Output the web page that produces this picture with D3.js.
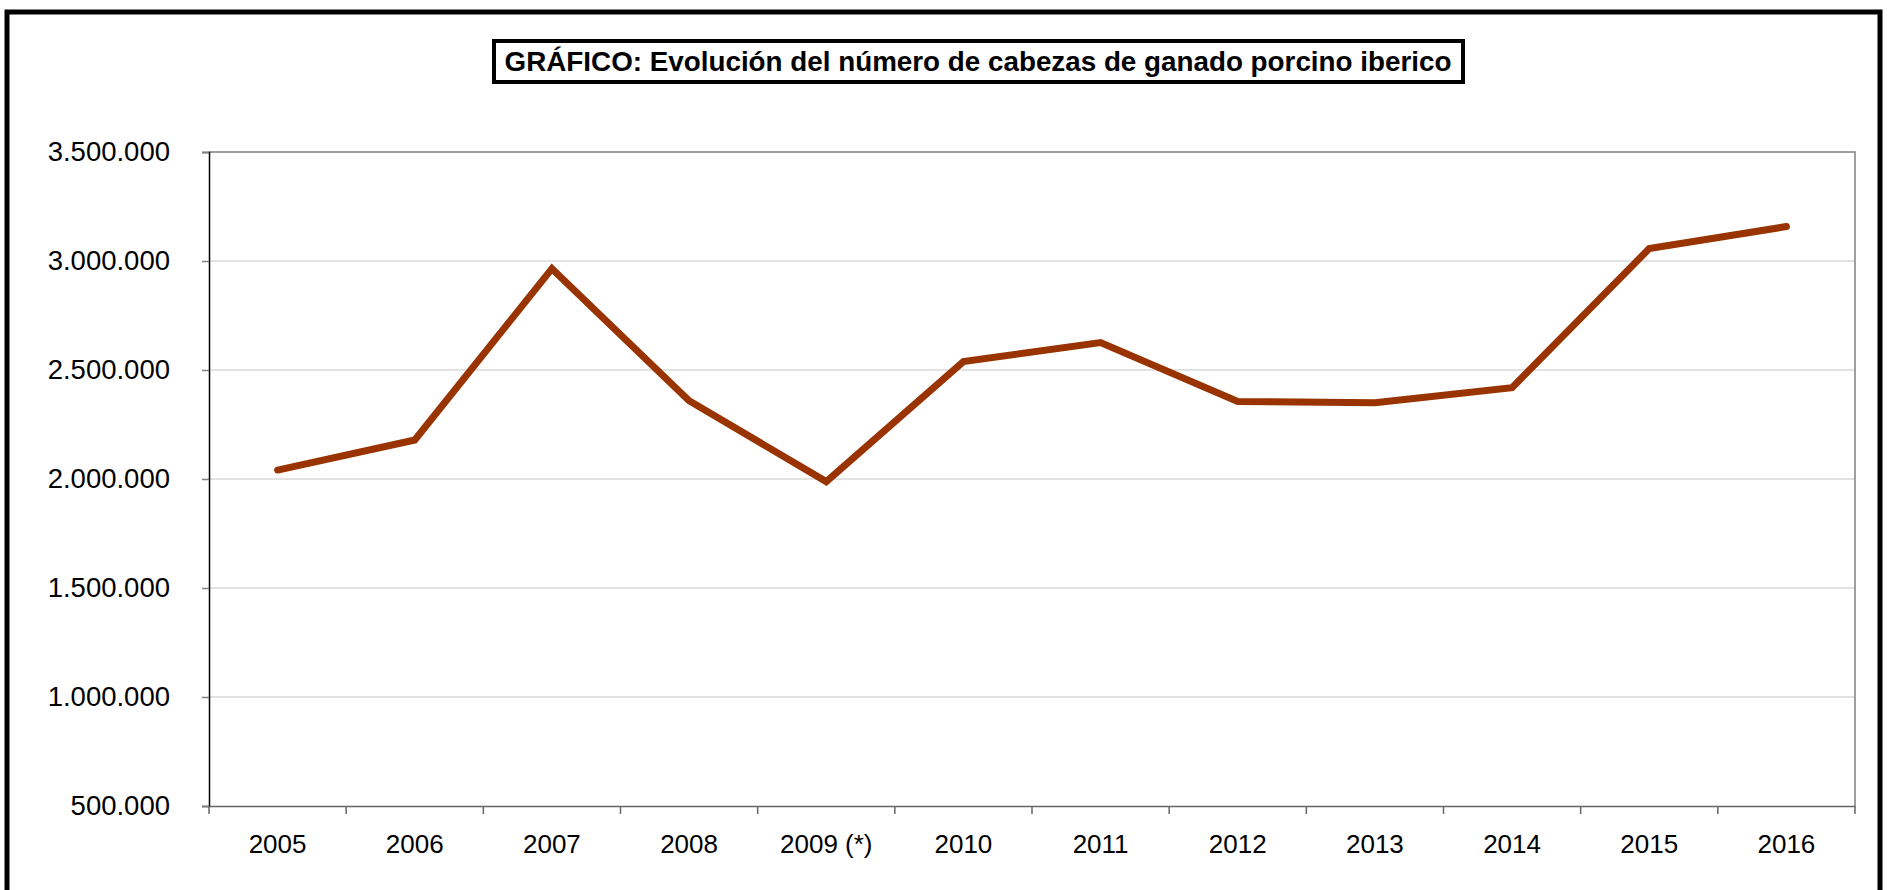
<!DOCTYPE html>
<html lang="es">
  <head>
    <meta charset="utf-8" />
    <title>Ganado porcino ibérico</title>
    <script src="https://d3js.org/d3.v7.min.js"></script>
    <style type="text/css">
      body {
        margin: 0;
        background: #fff;
      }
      svg text {
        font-family: "Liberation Sans", Arial, sans-serif;
        fill: #000;
      }
    </style>
  </head>
  <body>
    <script type="text/javascript">
      // Data
      var years = ["2005", "2006", "2007", "2008", "2009 (*)", "2010",
        "2011", "2012", "2013", "2014", "2015", "2016"];
      var heads = [2041000, 2179000, 2965000, 2359000, 1988000, 2539000,
        2626000, 2356000, 2350000, 2419000, 3057000, 3158000];
      var yTicks = [500000, 1000000, 1500000, 2000000, 2500000, 3000000, 3500000];
      var title = "GRÁFICO: Evolución del número de cabezas de ganado porcino iberico";

      var w = 1894, h = 890;
      var margin = { top: 152, right: 39, bottom: 84, left: 209 };
      var pw = w - margin.left - margin.right,
        ph = h - margin.top - margin.bottom;

      var es = d3.formatLocale({ decimal: ",", thousands: ".", grouping: [3], currency: ["", " €"] });
      var fmt = es.format(",d");

      var svg = d3.select("body").append("svg")
        .attr("width", w)
        .attr("height", h);

      // outer frame
      svg.append("rect")
        .attr("x", 7).attr("y", 12)
        .attr("width", 1873).attr("height", 900)
        .attr("fill", "none")
        .attr("stroke", "#000")
        .attr("stroke-width", 5);

      // title box
      svg.append("rect")
        .attr("x", 494).attr("y", 41)
        .attr("width", 969).attr("height", 41)
        .attr("fill", "#fff")
        .attr("stroke", "#000")
        .attr("stroke-width", 4);
      svg.append("text")
        .attr("x", 978).attr("y", 71)
        .attr("text-anchor", "middle")
        .style("font-size", "27.8px")
        .style("font-weight", "bold")
        .text(title);

      var g = svg.append("g")
        .attr("transform", "translate(" + margin.left + "," + margin.top + ")");

      var xScale = d3.scaleBand().domain(years).range([0, pw]).padding(0);
      var yScale = d3.scaleLinear().domain([500000, 3500000]).range([ph, 0]);

      // gridlines
      g.append("g").selectAll("line")
        .data(yTicks.slice(1, -1))
        .enter().append("line")
        .attr("x1", 0).attr("x2", pw)
        .attr("y1", function (d) { return yScale(d); })
        .attr("y2", function (d) { return yScale(d); })
        .attr("stroke", "#d9d9d9")
        .attr("stroke-width", 1.5);

      // plot frame (top + right)
      g.append("path")
        .attr("d", "M0,0H" + pw + "V" + ph)
        .attr("fill", "none")
        .attr("stroke", "#808080")
        .attr("stroke-width", 1.5);

      // y axis
      var yAxis = g.append("g")
        .call(d3.axisLeft(yScale).tickValues(yTicks).tickFormat(fmt)
          .tickSize(7).tickPadding(32));
      yAxis.select(".domain").attr("stroke", "#000").attr("stroke-width", 1.5);
      yAxis.selectAll(".tick line").attr("stroke", "#808080").attr("stroke-width", 1.5);
      yAxis.selectAll("text").style("font-size", "27.5px").attr("fill", "#000");

      // x axis, labels in band centres, ticks on band edges
      var xAxis = g.append("g")
        .attr("transform", "translate(0," + ph + ")")
        .call(d3.axisBottom(xScale).tickSize(0).tickPadding(29).tickSizeOuter(0));
      xAxis.select(".domain").attr("stroke", "#666").attr("stroke-width", 1.5);
      xAxis.selectAll("text").style("font-size", "26px").attr("fill", "#000");
      xAxis.selectAll(".edge")
        .data(years.map(function (d) { return xScale(d); }).concat([pw]))
        .enter().append("line")
        .attr("class", "edge")
        .attr("x1", function (d) { return d; })
        .attr("x2", function (d) { return d; })
        .attr("y1", 0).attr("y2", 8)
        .attr("stroke", "#666")
        .attr("stroke-width", 1.5);

      // line
      var line = d3.line()
        .x(function (d, i) { return xScale(years[i]) + xScale.bandwidth() / 2; })
        .y(function (d) { return yScale(d); });
      g.append("path")
        .datum(heads)
        .attr("d", line)
        .attr("fill", "none")
        .attr("stroke", "#993300")
        .attr("stroke-width", 7)
        .attr("stroke-linejoin", "miter")
        .attr("stroke-linecap", "round");
    </script>
  </body>
</html>
